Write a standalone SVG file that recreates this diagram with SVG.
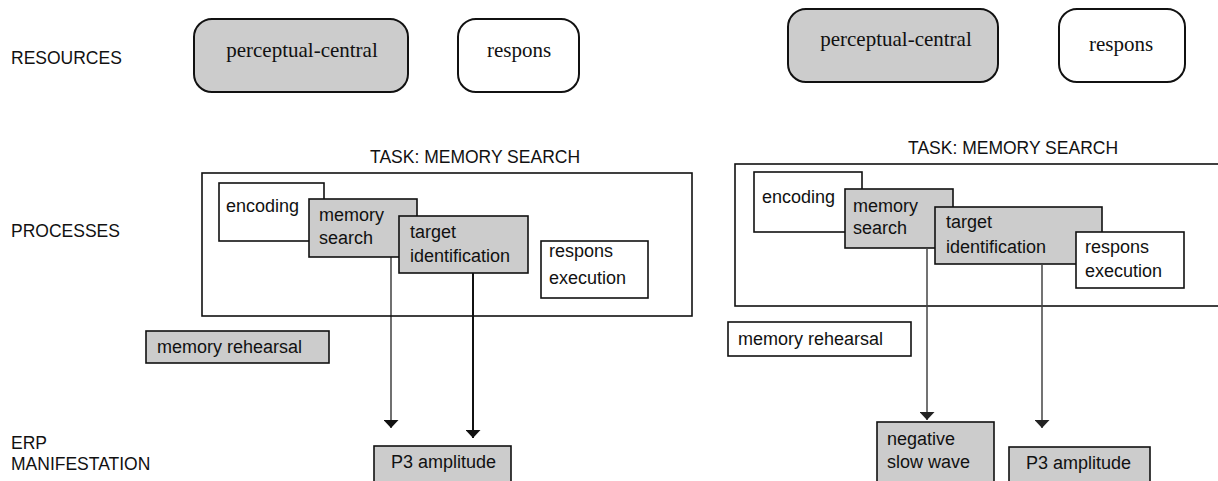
<svg xmlns="http://www.w3.org/2000/svg" width="1218" height="481" viewBox="0 0 1218 481">
<style>
.lbl{font-family:"Liberation Sans",Arial,sans-serif;font-size:17.5px;fill:#111}
.bt{font-family:"Liberation Sans",Arial,sans-serif;font-size:18px;fill:#111}
.sr{font-family:"Liberation Serif","Times New Roman",serif;font-size:21px;fill:#111;text-anchor:middle}
.res{stroke:#111;stroke-width:2}
.g{fill:#cccccc}
.w{fill:#ffffff}
.bx{stroke:#111;stroke-width:1.6}
.frame{fill:none;stroke:#111;stroke-width:1.6}
</style>
<defs>
<marker id="ah" viewBox="0 0 8 15" refX="8" refY="7.5" markerWidth="8" markerHeight="15" markerUnits="userSpaceOnUse" orient="auto">
<path d="M0,0 L8,7.5 L0,15 Z" fill="#111"/>
</marker>
<marker id="ahg" viewBox="0 0 8 15" refX="8" refY="7.5" markerWidth="8" markerHeight="15" markerUnits="userSpaceOnUse" orient="auto">
<path d="M0,0 L8,7.5 L0,15 Z" fill="#222"/>
</marker>
</defs>
<rect width="1218" height="481" fill="#fff"/>

<!-- Row labels -->
<g id="labels">
<text class="lbl" x="11" y="64">RESOURCES</text>
<text class="lbl" x="11" y="237">PROCESSES</text>
<text class="lbl" x="11" y="449">ERP</text>
<text class="lbl" x="11" y="470">MANIFESTATION</text>
</g>

<!-- LEFT PANEL -->
<g id="L-perceptual-central">
<rect class="res g" x="194" y="19" width="214" height="73" rx="18"/>
<text class="sr" x="302" y="57">perceptual-central</text>
</g>
<g id="L-respons">
<rect class="res w" x="458" y="19" width="121" height="73" rx="18"/>
<text class="sr" x="519" y="57">respons</text>
</g>
<g id="L-task">
<text class="lbl" x="370" y="163">TASK: MEMORY SEARCH</text>
<rect class="frame" x="202" y="173" width="490" height="143"/>
</g>
<g id="L-encoding">
<rect class="bx w" x="219" y="183" width="105" height="58"/>
<text class="bt" x="226" y="212">encoding</text>
</g>
<g id="L-memory-search">
<rect class="bx g" x="309" y="199" width="108" height="58"/>
<text class="bt" x="319" y="221">memory</text>
<text class="bt" x="319" y="244">search</text>
</g>
<g id="L-target-identification">
<rect class="bx g" x="399" y="216" width="129" height="57"/>
<text class="bt" x="410" y="238">target</text>
<text class="bt" x="410" y="262">identification</text>
</g>
<g id="L-respons-execution">
<rect class="bx w" x="541" y="241" width="107" height="57"/>
<text class="bt" x="549" y="257">respons</text>
<text class="bt" x="549" y="284">execution</text>
</g>
<g id="L-memory-rehearsal">
<rect class="bx g" x="146" y="331" width="183" height="32"/>
<text class="bt" x="157" y="353">memory rehearsal</text>
</g>
<g id="L-p3">
<rect class="bx g" x="374" y="446" width="137" height="40"/>
<text class="bt" x="391" y="468">P3 amplitude</text>
</g>

<!-- RIGHT PANEL -->
<g id="R-perceptual-central">
<rect class="res g" x="788" y="9" width="210" height="73" rx="18"/>
<text class="sr" x="896" y="46">perceptual-central</text>
</g>
<g id="R-respons">
<rect class="res w" x="1059" y="9" width="126" height="73" rx="18"/>
<text class="sr" x="1121" y="51">respons</text>
</g>
<g id="R-task">
<text class="lbl" x="908" y="154">TASK: MEMORY SEARCH</text>
<rect class="frame" x="735" y="164" width="500" height="142"/>
</g>
<g id="R-encoding">
<rect class="bx w" x="754" y="172" width="108" height="60"/>
<text class="bt" x="762" y="203">encoding</text>
</g>
<g id="R-memory-search">
<rect class="bx g" x="845" y="189" width="108" height="59"/>
<text class="bt" x="853" y="212">memory</text>
<text class="bt" x="853" y="234">search</text>
</g>
<g id="R-target-identification">
<rect class="bx g" x="935" y="207" width="167" height="57"/>
<text class="bt" x="946" y="228">target</text>
<text class="bt" x="946" y="253">identification</text>
</g>
<g id="R-respons-execution">
<rect class="bx w" x="1076" y="232" width="108" height="56"/>
<text class="bt" x="1085" y="253">respons</text>
<text class="bt" x="1085" y="277">execution</text>
</g>
<g id="R-memory-rehearsal">
<rect class="bx w" x="728" y="322" width="183" height="34"/>
<text class="bt" x="738" y="345">memory rehearsal</text>
</g>
<g id="R-negative-slow-wave">
<rect class="bx g" x="877" y="422" width="117" height="64"/>
<text class="bt" x="887" y="445">negative</text>
<text class="bt" x="887" y="468">slow wave</text>
</g>
<g id="R-p3">
<rect class="bx g" x="1009" y="447" width="141" height="40"/>
<text class="bt" x="1026" y="469">P3 amplitude</text>
</g>

<!-- Connectors -->
<g id="connectors" fill="none">
<line x1="391" y1="257" x2="391" y2="428" stroke="#111" stroke-width="1.2" marker-end="url(#ah)"/>
<line x1="473" y1="273" x2="473" y2="438" stroke="#111" stroke-width="2" marker-end="url(#ah)"/>
<line x1="927" y1="248" x2="927" y2="420" stroke="#444" stroke-width="1.5" marker-end="url(#ahg)"/>
<line x1="1042" y1="264" x2="1042" y2="428" stroke="#444" stroke-width="1.5" marker-end="url(#ahg)"/>
</g>
</svg>
